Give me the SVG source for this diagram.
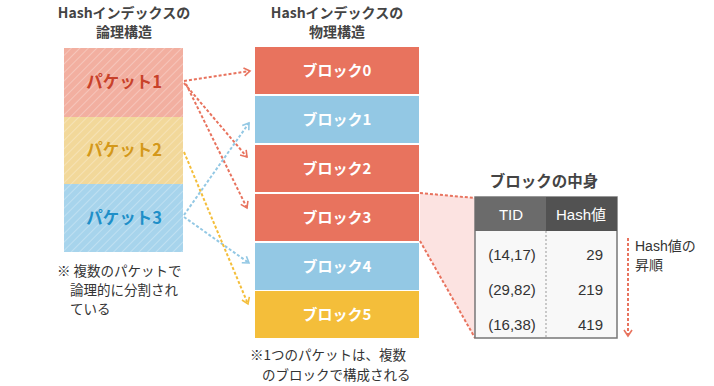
<svg xmlns="http://www.w3.org/2000/svg" width="714" height="386" viewBox="0 0 714 386">
<style>
text{font-family:"Noto Sans CJK JP","Noto Sans",sans-serif;}
.title{font-size:14px;font-weight:bold;fill:#444;text-anchor:middle;}
.blk{font-size:15px;font-weight:bold;fill:#fff;text-anchor:middle;}
.pk{font-size:16.5px;font-weight:bold;text-anchor:middle;}
.note{font-size:13.5px;fill:#333;}
.cell{font-family:"Liberation Sans",Arial,sans-serif;font-size:15px;fill:#333;}
.con{fill:none;stroke-width:2;stroke-dasharray:3 2;}
</style>
<defs>
<pattern id="hatch" width="6" height="6" patternUnits="userSpaceOnUse" patternTransform="rotate(45)">
<line x1="0" y1="0" x2="0" y2="6" stroke="#fff" stroke-width="1" stroke-opacity="0.55"/>
</pattern>
<marker id="mr" markerWidth="10" markerHeight="10" refX="7" refY="5" orient="auto" markerUnits="userSpaceOnUse"><path d="M1,1 L7,5 L1,9" fill="none" stroke="#E8735E" stroke-width="1.6"/></marker>
<marker id="mb" markerWidth="10" markerHeight="10" refX="7" refY="5" orient="auto" markerUnits="userSpaceOnUse"><path d="M1,1 L7,5 L1,9" fill="none" stroke="#93C8E4" stroke-width="1.6"/></marker>
<marker id="my" markerWidth="10" markerHeight="10" refX="7" refY="5" orient="auto" markerUnits="userSpaceOnUse"><path d="M1,1 L7,5 L1,9" fill="none" stroke="#F4BE3A" stroke-width="1.6"/></marker>
</defs>
<rect width="714" height="386" fill="#fff"/>

<text class="title" x="124" y="18">Hashインデックスの</text>
<text class="title" x="124" y="37">論理構造</text>
<text class="title" x="337" y="18">Hashインデックスの</text>
<text class="title" x="337" y="37">物理構造</text>

<g id="packet1"><rect x="64" y="48" width="119" height="69" fill="#F2AFA0"/><rect x="64" y="48" width="119" height="69" fill="url(#hatch)"/><text class="pk" x="124" y="88" fill="#C8412A">パケット1</text></g>
<g id="packet2"><rect x="64" y="117" width="119" height="67" fill="#F2D89A"/><rect x="64" y="117" width="119" height="67" fill="url(#hatch)"/><text class="pk" x="124" y="156" fill="#D4981A">パケット2</text></g>
<g id="packet3"><rect x="64" y="184" width="119" height="68" fill="#A7D4EC"/><rect x="64" y="184" width="119" height="68" fill="url(#hatch)"/><text class="pk" x="124" y="224" fill="#1E8FC8">パケット3</text></g>

<text class="note" x="57" y="276">※ 複数のパケットで</text>
<text class="note" x="70" y="295">論理的に分割され</text>
<text class="note" x="70" y="314">ている</text>

<g id="block0"><rect x="255" y="47" width="164" height="47" fill="#E8735E"/><text class="blk" x="337" y="76">ブロック0</text></g>
<g id="block1"><rect x="255" y="96" width="164" height="47" fill="#93C8E4"/><text class="blk" x="337" y="125">ブロック1</text></g>
<g id="block2"><rect x="255" y="145" width="164" height="47" fill="#E8735E"/><text class="blk" x="337" y="174">ブロック2</text></g>
<g id="block3"><rect x="255" y="194" width="164" height="47" fill="#E8735E"/><text class="blk" x="337" y="223">ブロック3</text></g>
<g id="block4"><rect x="255" y="243" width="164" height="47" fill="#93C8E4"/><text class="blk" x="337" y="272">ブロック4</text></g>
<g id="block5"><rect x="255" y="291" width="164" height="47" fill="#F4BE3A"/><text class="blk" x="337" y="320">ブロック5</text></g>

<text class="note" x="250" y="360">※1つのパケットは、複数</text>
<text class="note" x="262" y="380">のブロックで構成される</text>

<g id="connectors">
<path class="con" d="M184,81 L250,71" stroke="#E8735E" marker-end="url(#mr)"/>
<path class="con" d="M184,83 L247,157" stroke="#E8735E" marker-end="url(#mr)"/>
<path class="con" d="M186,84 L247,208" stroke="#E8735E" marker-end="url(#mr)"/>
<path class="con" d="M184,215 L249,123" stroke="#93C8E4" marker-end="url(#mb)"/>
<path class="con" d="M184,217 L249,263" stroke="#93C8E4" marker-end="url(#mb)"/>
<path class="con" d="M184,152 L248,304" stroke="#F4BE3A" marker-end="url(#my)"/>
<polygon points="420,193 475,198 475,338 420,241" fill="#FCE3E1"/>
<path class="con" d="M420,193 L475,198" stroke="#E8735E" stroke-width="1.2"/>
<path class="con" d="M420,241 L475,338" stroke="#E8735E" stroke-width="1.2"/>
<path class="con" d="M628,238 L628,336" stroke="#E8735E" marker-end="url(#mr)"/>
</g>

<g id="table">
<text class="title" x="544" y="187" style="font-size:15.5px">ブロックの中身</text>
<rect x="475" y="197" width="142" height="141" fill="#F8F8F8" stroke="#777" stroke-width="1.5"/>
<rect x="475" y="197" width="71" height="34" fill="#6B6B6B"/>
<rect x="546" y="197" width="71" height="34" fill="#525252"/>
<line x1="546" y1="231" x2="546" y2="338" stroke="#999" stroke-width="1" stroke-dasharray="2 2"/>
<text x="511" y="220" font-size="15" fill="#fff" text-anchor="middle" style="font-family:'Liberation Sans',Arial,sans-serif">TID</text>
<text x="581" y="220" font-size="15" fill="#fff" text-anchor="middle"><tspan style="font-family:'Liberation Sans',Arial,sans-serif">Hash</tspan>値</text>
<text class="cell" x="512" y="260" text-anchor="middle">(14,17)</text>
<text class="cell" x="603" y="260" text-anchor="end">29</text>
<text class="cell" x="512" y="295" text-anchor="middle">(29,82)</text>
<text class="cell" x="603" y="295" text-anchor="end">219</text>
<text class="cell" x="512" y="330" text-anchor="middle">(16,38)</text>
<text class="cell" x="603" y="330" text-anchor="end">419</text>
</g>
<text class="note" x="635" y="251" style="font-size:14px"><tspan style="font-family:'Liberation Sans',Arial,sans-serif">Hash</tspan>値の</text>
<text class="note" x="635" y="270" style="font-size:14px">昇順</text>
</svg>
